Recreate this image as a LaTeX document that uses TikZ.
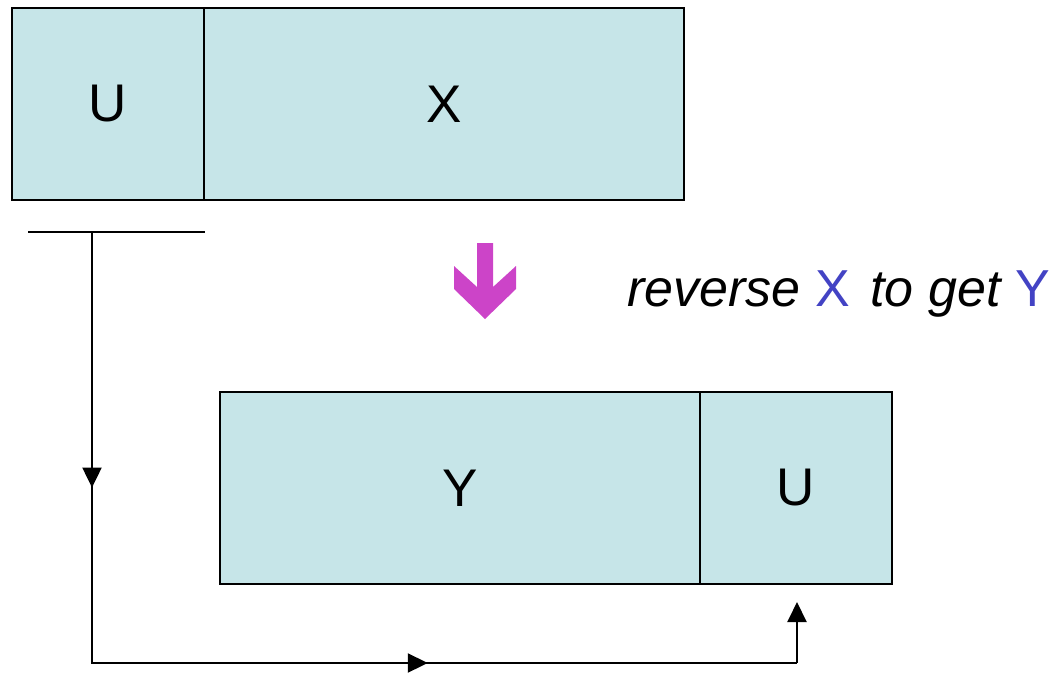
\documentclass[tikz,border=0pt]{standalone}
\usepackage{fontspec}
\setmainfont{Liberation Sans}
\usetikzlibrary{arrows.meta,decorations.markings}
\definecolor{cellfill}{HTML}{C6E5E8}
\definecolor{xyblue}{HTML}{4343C4}
\definecolor{arrmag}{HTML}{CC44C8}
\tikzset{
  cell/.style={draw, line width=2pt, fill=cellfill, minimum height=192pt,
    outer sep=0pt, inner sep=0pt, anchor=north west,
    font=\fontsize{53}{62}\selectfont},
  tip/.style={-{Triangle[length=20pt,width=19pt]}},
  flow/.style={line width=2pt, postaction={decorate}, decoration={markings,
    mark=at position 0.225 with {\arrow{Triangle[length=20pt,width=19pt]}},
    mark=at position 0.675 with {\arrow{Triangle[length=20pt,width=19pt]}}}}
}
\begin{document}
\begin{tikzpicture}[x=1pt, y=-1pt]
  \useasboundingbox (0,0) rectangle (1057,672);
  % before: U then X
  \node[cell, minimum width=192pt] (u1) at (12,8) {U};
  \node[cell, minimum width=480pt] (x) at (u1.north east) {X};
  % after: Y then U
  \node[cell, minimum width=480pt] (y) at (220,392) {Y};
  \node[cell, minimum width=192pt] (u2) at (y.north east) {U};
  % bracket under U and the path that carries it over
  \coordinate (bl) at (28,232);
  \coordinate (br) at (205,232);
  \coordinate (top) at (92,232);
  \coordinate (c1) at (92,663);
  \coordinate (c2) at (797,663);
  \coordinate (end) at (797,602);
  \draw[line width=2pt] (bl) -- (br);
  \draw[flow] (top) -- (c1) -- (c2);
  \draw[line width=2pt, tip] (c2) -- (end);
  % fat down arrow
  \fill[arrmag] (477,243) -- (493,243) -- (493,287) -- (516,266) -- (516,289)
    -- (485,319) -- (454,289) -- (454,266) -- (477,287) -- cycle;
  \node[anchor=base west, inner sep=0pt, font=\fontsize{52}{60}\selectfont] (note)
    at (627,306) {\itshape reverse \textcolor{xyblue}{\upshape X}\hspace{0.4em}to get \textcolor{xyblue}{\upshape Y}};
\end{tikzpicture}
\end{document}
